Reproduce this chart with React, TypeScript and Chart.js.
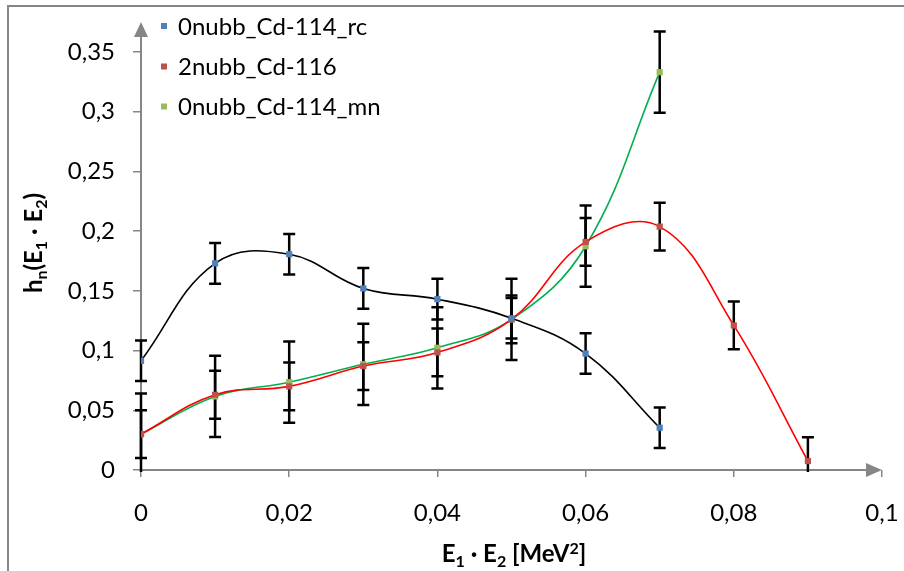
import React, { useEffect, useRef } from "react";
import { Chart, registerables } from "chart.js";

Chart.register(...registerables);

// ---- data ----
const xValues = [0, 0.01, 0.02, 0.03, 0.04, 0.05, 0.06, 0.07, 0.08, 0.09];

const rcValues = [0.0914, 0.173, 0.1806, 0.152, 0.143, 0.127, 0.0975, 0.0354];
const rcErrors = [0.017, 0.017, 0.017, 0.017, 0.017, 0.017, 0.017, 0.017];

const cd116Values = [0.03, 0.063, 0.07, 0.087, 0.0984, 0.126, 0.1909, 0.2037, 0.121, 0.0075];
const cd116Errors = [0.02, 0.02, 0.02, 0.02, 0.02, 0.02, 0.02, 0.02, 0.02, 0.02];

const mnValues = [0.03, 0.0616, 0.0735, 0.0885, 0.1023, 0.126, 0.1873, 0.333];
const mnErrors = [0.034, 0.034, 0.034, 0.034, 0.034, 0.034, 0.034, 0.034];

const seriesNames = ["0nubb_Cd-114_rc", "2nubb_Cd-116", "0nubb_Cd-114_mn"];
const markerColors = ["#4F81BD", "#C0504D", "#9BBB59"];
const lineColors = ["#000000", "#FF0000", "#00B050"];

const xTicks = [0, 0.02, 0.04, 0.06, 0.08, 0.1];
const xTickLabels = ["0", "0,02", "0,04", "0,06", "0,08", "0,1"];
const yTicks = [0, 0.05, 0.1, 0.15, 0.2, 0.25, 0.3, 0.35];
const yTickLabels = ["0", "0,05", "0,1", "0,15", "0,2", "0,25", "0,3", "0,35"];

const FONT = "Lato, 'Open Sans', sans-serif";
const AXIS_GRAY = "#868686";

type Part = { t: string; sub?: boolean; sup?: boolean };
const yTitleParts: Part[] = [
  { t: "h" },
  { t: "n", sub: true },
  { t: "(E" },
  { t: "1", sub: true },
  { t: " · E" },
  { t: "2", sub: true },
  { t: ")" },
];
const xTitleParts: Part[] = [
  { t: "E" },
  { t: "1", sub: true },
  { t: " · E" },
  { t: "2", sub: true },
  { t: " [MeV" },
  { t: "2", sup: true },
  { t: "]" },
];

function drawRich(ctx: CanvasRenderingContext2D, parts: Part[], cx: number, baseY: number) {
  const main = `bold 24px ${FONT}`;
  const small = `bold 16px ${FONT}`;
  let total = 0;
  const widths = parts.map((p) => {
    ctx.font = p.sub || p.sup ? small : main;
    const w = ctx.measureText(p.t).width;
    total += w;
    return w;
  });
  let x = cx - total / 2;
  ctx.textAlign = "left";
  ctx.textBaseline = "alphabetic";
  ctx.fillStyle = "#000";
  parts.forEach((p, i) => {
    ctx.font = p.sub || p.sup ? small : main;
    const dy = p.sub ? 5 : p.sup ? -8 : 0;
    ctx.fillText(p.t, x, baseY + dy);
    x += widths[i];
  });
}

const errorSets = [
  { values: rcValues, errors: rcErrors },
  { values: cd116Values, errors: cd116Errors },
  { values: mnValues, errors: mnErrors },
];

const decorPlugin = {
  id: "decor",
  beforeDraw(chart: any) {
    const ctx = chart.ctx as CanvasRenderingContext2D;
    ctx.save();
    ctx.fillStyle = "#fff";
    ctx.fillRect(0, 0, chart.width, chart.height);
    ctx.strokeStyle = AXIS_GRAY;
    ctx.lineWidth = 2;
    ctx.strokeRect(8, 6, chart.width + 20, chart.height + 20);
    ctx.restore();
  },
  beforeDatasetsDraw(chart: any) {
    const ctx = chart.ctx as CanvasRenderingContext2D;
    const { left, right, top, bottom } = chart.chartArea;
    ctx.save();
    // axes with arrows
    ctx.strokeStyle = AXIS_GRAY;
    ctx.fillStyle = AXIS_GRAY;
    ctx.lineWidth = 2;
    ctx.beginPath();
    ctx.moveTo(left, bottom);
    ctx.lineTo(left, top + 14);
    ctx.moveTo(left, bottom);
    ctx.lineTo(right - 15, bottom);
    ctx.stroke();
    ctx.beginPath();
    ctx.moveTo(left, top);
    ctx.lineTo(left - 7, top + 15);
    ctx.lineTo(left + 7, top + 15);
    ctx.closePath();
    ctx.fill();
    ctx.beginPath();
    ctx.moveTo(right, bottom);
    ctx.lineTo(right - 16, bottom - 7);
    ctx.lineTo(right - 16, bottom + 7);
    ctx.closePath();
    ctx.fill();

    // error bars
    const xs = chart.scales.x;
    const ys = chart.scales.y;
    ctx.beginPath();
    ctx.rect(left - 10, top, right - left + 20, bottom - top + 2);
    ctx.clip();
    ctx.strokeStyle = "#000";
    ctx.lineWidth = 2.5;
    errorSets.forEach((s) => {
      s.values.forEach((v, i) => {
        const px = xs.getPixelForValue(xValues[i]);
        const y1 = ys.getPixelForValue(v + s.errors[i]);
        const y2 = ys.getPixelForValue(v - s.errors[i]);
        ctx.beginPath();
        ctx.moveTo(px, y1);
        ctx.lineTo(px, y2);
        ctx.moveTo(px - 6, y1);
        ctx.lineTo(px + 6, y1);
        ctx.moveTo(px - 6, y2);
        ctx.lineTo(px + 6, y2);
        ctx.stroke();
      });
    });
    ctx.restore();
  },
  afterDraw(chart: any) {
    const ctx = chart.ctx as CanvasRenderingContext2D;
    ctx.save();
    // legend
    const rows = [26, 66.5, 106.5];
    seriesNames.forEach((name, i) => {
      ctx.fillStyle = markerColors[i];
      ctx.fillRect(161, rows[i] - 3, 6, 6);
      ctx.fillStyle = "#000";
      ctx.font = `24px ${FONT}`;
      ctx.textAlign = "left";
      ctx.textBaseline = "middle";
      ctx.fillText(name, 178, rows[i] + 1);
    });
    // x title
    drawRich(ctx, xTitleParts, 514, 562);
    // y title
    ctx.translate(42, 243);
    ctx.rotate(-Math.PI / 2);
    drawRich(ctx, yTitleParts, 0, 0);
    ctx.restore();
  },
};

function makeDataset(label: string, values: number[], i: number) {
  return {
    label,
    data: values.map((v, k) => ({ x: xValues[k], y: v })),
    borderColor: lineColors[i],
    borderWidth: 1.6,
    backgroundColor: markerColors[i],
    pointBackgroundColor: markerColors[i],
    pointBorderWidth: 0,
    pointStyle: "rect",
    pointRadius: 4.4,
    showLine: true,
    tension: 0.4,
    fill: false,
  };
}

export default function App() {
  const ref = useRef<HTMLCanvasElement>(null);
  useEffect(() => {
    document.body.style.margin = "0";
    const canvas = ref.current!;
    const tickFont = { family: FONT, size: 24 };
    const chart = new Chart(canvas, {
      type: "line",
      data: {
        datasets: [
          makeDataset(seriesNames[0], rcValues, 0),
          makeDataset(seriesNames[1], cd116Values, 1),
          makeDataset(seriesNames[2], mnValues, 2),
        ] as any,
      },
      options: {
        animation: false,
        responsive: false,
        devicePixelRatio: 1,
        layout: { padding: { top: 22, right: 22, left: 0, bottom: 0 } },
        plugins: { legend: { display: false }, tooltip: { enabled: false } },
        scales: {
          x: {
            type: "linear",
            min: 0,
            max: 0.1,
            afterFit: (s: any) => {
              s.height = 101;
              s.paddingLeft = 0;
              s.paddingRight = 0;
            },
            afterBuildTicks: (s: any) => {
              s.ticks = xTicks.map((v) => ({ value: v }));
            },
            ticks: {
              font: tickFont,
              color: "#000",
              padding: 22,
              maxRotation: 0,
              autoSkip: false,
              callback: (v: any) => xTickLabels[xTicks.indexOf(Number(v))] ?? "",
            },
            grid: { drawOnChartArea: false, drawTicks: true, tickLength: 7, color: AXIS_GRAY, lineWidth: 1.5 },
            border: { display: false },
          },
          y: {
            type: "linear",
            min: 0,
            max: 0.375,
            afterFit: (s: any) => {
              s.width = 141;
              s.paddingTop = 0;
              s.paddingBottom = 0;
            },
            afterBuildTicks: (s: any) => {
              s.ticks = yTicks.map((v) => ({ value: v }));
            },
            ticks: {
              font: tickFont,
              color: "#000",
              padding: 18,
              autoSkip: false,
              callback: (v: any) => yTickLabels[yTicks.indexOf(Number(v))] ?? "",
            },
            grid: { drawOnChartArea: false, drawTicks: true, tickLength: 8, color: AXIS_GRAY, lineWidth: 1.5 },
            border: { display: false },
          },
        },
      } as any,
      plugins: [decorPlugin],
    });
    return () => chart.destroy();
  }, []);
  return <canvas ref={ref} width={904} height={571} style={{ display: "block" }} />;
}
